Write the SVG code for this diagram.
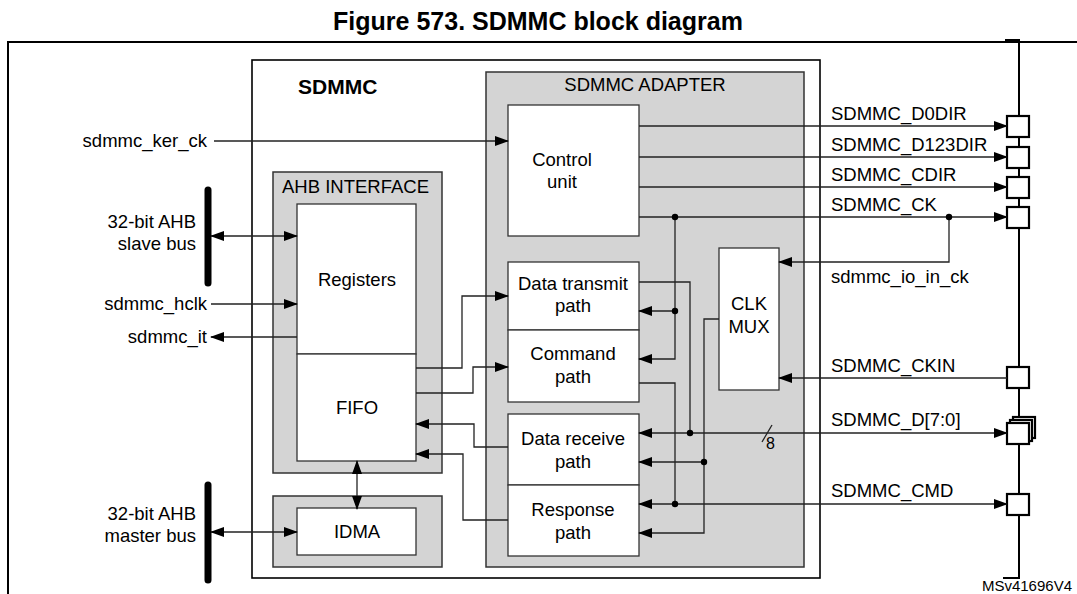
<svg xmlns="http://www.w3.org/2000/svg" width="1077" height="594" viewBox="0 0 1077 594">
<style>
text{font-family:"Liberation Sans",Arial,sans-serif;font-size:18.5px;fill:#000}
.c{text-anchor:middle}.r{text-anchor:end}
.g{fill:#d4d4d4;stroke:#333;stroke-width:1.5}
.w{fill:#fff;stroke:#333;stroke-width:1.3}
.ln{fill:none;stroke:#222;stroke-width:1.3}
.bar{stroke:#000;stroke-width:7;stroke-linecap:round}
.pin{fill:#fff;stroke:#000;stroke-width:2.2}
</style>
<defs>
<marker id="a" markerUnits="userSpaceOnUse" markerWidth="14" markerHeight="10" refX="13" refY="5" orient="auto-start-reverse"><path d="M0,0 L14,5 L0,10 z" fill="#000"/></marker>
</defs>
<rect width="1077" height="594" fill="#fff"/>
<text x="538" y="30" class="c" style="font-size:25px;font-weight:bold">Figure 573. SDMMC block diagram</text>
<path d="M8,600 V42 H1080" fill="none" stroke="#000" stroke-width="2"/>
<g id="sdmmc"><rect x="252" y="60" width="568" height="518" fill="#fff" stroke="#000" stroke-width="1.6"/><text x="298" y="94" style="font-size:21px;font-weight:bold">SDMMC</text></g>
<g id="adapter"><rect x="486" y="72" width="318" height="495" class="g"/><text x="645" y="91" class="c">SDMMC ADAPTER</text></g>
<g id="ahb"><rect x="273" y="172" width="169" height="301" class="g"/><text x="282" y="193">AHB INTERFACE</text></g>
<g id="registers"><rect x="297" y="204" width="119" height="150" class="w"/><text x="357" y="286" class="c">Registers</text></g>
<g id="fifo"><rect x="297" y="354" width="119" height="107" class="w"/><text x="357" y="414" class="c">FIFO</text></g>
<g id="idma-wrap"><rect x="273" y="496" width="169" height="71" class="g"/></g>
<g id="idma"><rect x="297" y="508" width="119" height="47" class="w"/><text x="357" y="538" class="c">IDMA</text></g>
<g id="control"><rect x="508" y="105" width="131" height="131" class="w"/><text x="562" y="166" class="c">Control</text><text x="562" y="188" class="c">unit</text></g>
<g id="dtx"><rect x="508" y="262" width="131" height="68" class="w"/><text x="573" y="290" class="c">Data transmit</text><text x="573" y="312" class="c">path</text></g>
<g id="cmd"><rect x="508" y="330" width="131" height="72" class="w"/><text x="573" y="360" class="c">Command</text><text x="573" y="383" class="c">path</text></g>
<g id="drx"><rect x="508" y="414" width="131" height="71" class="w"/><text x="573" y="445" class="c">Data receive</text><text x="573" y="468" class="c">path</text></g>
<g id="resp"><rect x="508" y="485" width="131" height="71" class="w"/><text x="573" y="516" class="c">Response</text><text x="573" y="539" class="c">path</text></g>
<g id="clkmux"><rect x="719" y="248" width="60" height="142" class="w"/><text x="749" y="310" class="c">CLK</text><text x="749" y="333" class="c">MUX</text></g>
<g id="busline"><path d="M1005,40 H1019 V578 H1003" fill="none" stroke="#000" stroke-width="2"/></g>
<g id="pins">
<rect x="1007" y="116" width="22" height="21" class="pin"/>
<rect x="1007" y="147" width="22" height="21" class="pin"/>
<rect x="1007" y="177" width="22" height="21" class="pin"/>
<rect x="1007" y="207" width="22" height="21" class="pin"/>
<rect x="1007" y="367" width="22" height="21" class="pin"/>
<rect x="1013" y="417" width="22" height="21" class="pin"/>
<rect x="1010" y="420" width="22" height="21" class="pin"/>
<rect x="1007" y="423" width="22" height="21" class="pin"/>
<rect x="1007" y="494" width="22" height="21" class="pin"/>
</g>
<g id="buses"><line x1="208" y1="190" x2="208" y2="283" class="bar"/><line x1="208" y1="485" x2="208" y2="580" class="bar"/></g>
<g id="connectors" class="ln">
<path d="M214,141 H508" marker-end="url(#a)"/>
<path d="M211,236 H297" marker-start="url(#a)" marker-end="url(#a)"/>
<path d="M211,304 H297" marker-end="url(#a)"/>
<path d="M297,337 H211" marker-end="url(#a)"/>
<path d="M211,532 H297" marker-start="url(#a)" marker-end="url(#a)"/>
<path d="M357,461 V509" marker-start="url(#a)" marker-end="url(#a)"/>
<path d="M416,368 H462 V296 H508" marker-end="url(#a)"/>
<path d="M416,393 H473 V367 H508" marker-end="url(#a)"/>
<path d="M508,447 H474 V424 H416" marker-end="url(#a)"/>
<path d="M508,520 H463 V454 H416" marker-end="url(#a)"/>
<path d="M639,126 H1007" marker-end="url(#a)"/>
<path d="M639,157 H1007" marker-end="url(#a)"/>
<path d="M639,187 H1007" marker-end="url(#a)"/>
<path d="M639,217 H1007" marker-end="url(#a)"/>
<path d="M949,217 V262 H779" marker-end="url(#a)"/>
<path d="M675,217 V359 H639" marker-end="url(#a)"/>
<path d="M675,311 H639" marker-end="url(#a)"/>
<path d="M639,282 H690 V433"/>
<path d="M639,383 H675 V504"/>
<path d="M639,433 H1007" marker-start="url(#a)" marker-end="url(#a)"/>
<path d="M639,504 H1007" marker-start="url(#a)" marker-end="url(#a)"/>
<path d="M719,319 H704 V533 H639" marker-end="url(#a)"/>
<path d="M704,462 H639" marker-end="url(#a)"/>
<path d="M1007,378 H779" marker-end="url(#a)"/>
<path d="M762,442 L772,425"/>
</g>
<g id="dots" fill="#000"><circle cx="675" cy="217" r="3.2"/><circle cx="949" cy="217" r="3.2"/><circle cx="675" cy="311" r="3.2"/><circle cx="690" cy="433" r="3.2"/><circle cx="675" cy="504" r="3.2"/><circle cx="704" cy="462" r="3.2"/></g>
<g id="labels">
<text x="207" y="147" class="r">sdmmc_ker_ck</text>
<text x="196" y="228" class="r">32-bit AHB</text><text x="196" y="250" class="r">slave bus</text>
<text x="207" y="310" class="r">sdmmc_hclk</text>
<text x="207" y="343" class="r">sdmmc_it</text>
<text x="196" y="520" class="r">32-bit AHB</text><text x="196" y="542" class="r">master bus</text>
<text x="831" y="120">SDMMC_D0DIR</text>
<text x="831" y="151">SDMMC_D123DIR</text>
<text x="831" y="181">SDMMC_CDIR</text>
<text x="831" y="211">SDMMC_CK</text>
<text x="831" y="283">sdmmc_io_in_ck</text>
<text x="831" y="372">SDMMC_CKIN</text>
<text x="831" y="426">SDMMC_D[7:0]</text>
<text x="766" y="449" style="font-size:16px">8</text>
<text x="831" y="497">SDMMC_CMD</text>
<text x="1072" y="591" class="r" style="font-size:15px">MSv41696V4</text>
</g>
</svg>
